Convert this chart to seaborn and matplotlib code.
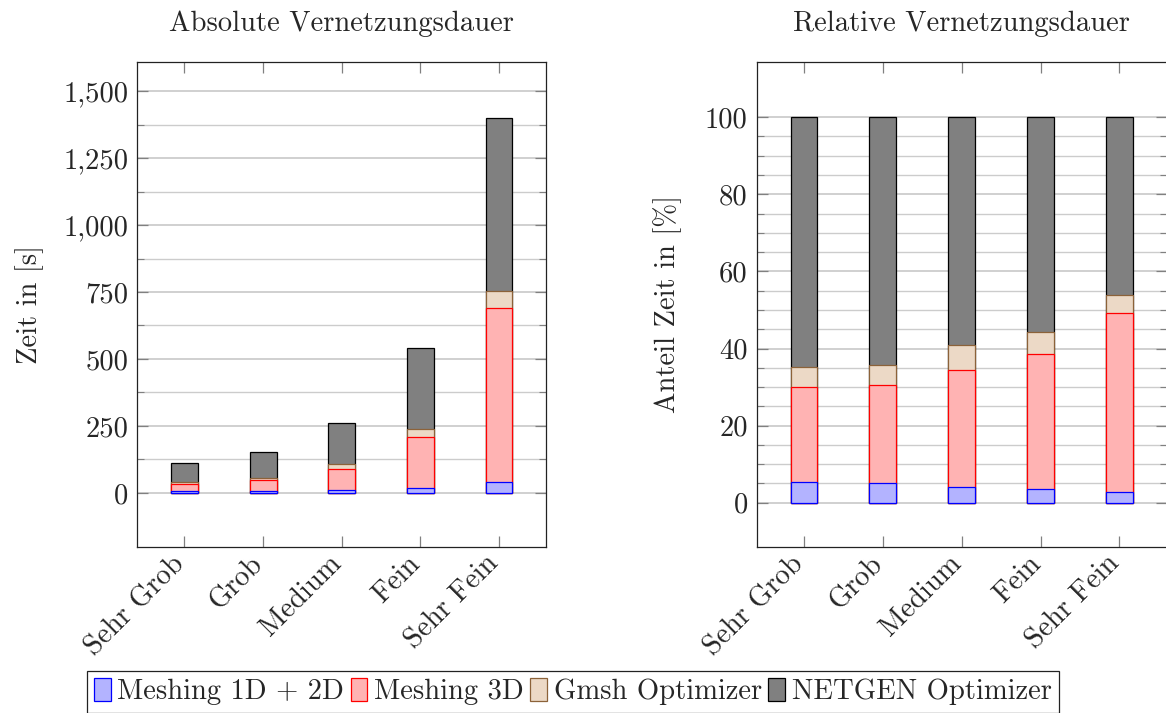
import numpy as np
import pandas as pd
import matplotlib
matplotlib.use("Agg")
import matplotlib.pyplot as plt
import matplotlib.transforms as mtrans
import seaborn as sns
from matplotlib.ticker import FixedLocator, FuncFormatter
from matplotlib.patches import Patch

# ---------------- data ----------------
categories = ["Sehr Grob", "Grob", "Medium", "Fein", "Sehr Fein"]
series_names = ["Meshing 1D + 2D", "Meshing 3D", "Gmsh Optimizer", "NETGEN Optimizer"]
meshing_1d2d = [6.0, 7.9, 11.0, 18.9, 40.6]       # s
meshing_3d = [27.5, 38.5, 79.4, 188.7, 648.7]     # s
gmsh_opt = [5.8, 7.9, 16.8, 31.8, 65.8]           # s
netgen_opt = [72.7, 97.7, 154.8, 299.7, 645.9]    # s

abs_major_ticks = [0, 250, 500, 750, 1000, 1250, 1500]
abs_minor_ticks = [125, 375, 625, 875, 1125, 1375]
rel_major_ticks = [0, 20, 40, 60, 80, 100]
rel_minor_ticks = [5, 10, 15, 25, 30, 35, 45, 50, 55, 65, 70, 75, 85, 90, 95]

fills = ["#b3b3ff", "#ffb3b3", "#ecd9c6", "#808080"]
edges = ["#0000ff", "#ff0000", "#8c6239", "#000000"]

sns.set_theme(style="white")
plt.rcParams["font.family"] = ["cmr10", "DejaVu Serif"]
plt.rcParams["axes.formatter.use_mathtext"] = True
plt.rcParams["axes.unicode_minus"] = False
plt.rcParams["font.size"] = 20.6

abs_df = pd.DataFrame({
    "Kategorie": categories,
    series_names[0]: meshing_1d2d,
    series_names[1]: meshing_3d,
    series_names[2]: gmsh_opt,
    series_names[3]: netgen_opt,
})
totals = abs_df[series_names].sum(axis=1)
rel_df = abs_df.copy()
for s in series_names:
    rel_df[s] = abs_df[s] / totals * 100.0

fig = plt.figure(figsize=(11.66, 7.13), dpi=100)
ax1 = fig.add_axes([137.3 / 1166, 1 - 546.7 / 713, 409 / 1166, 485 / 713])
ax2 = fig.add_axes([756.7 / 1166, 1 - 546.7 / 713, 410 / 1166, 485 / 713])

BAR_W = 0.34
FS = 20.6


def stacked(ax, df):
    cum = df[series_names].cumsum(axis=1)
    for k in range(len(series_names) - 1, -1, -1):
        d = pd.DataFrame({"Kategorie": df["Kategorie"], "v": cum[series_names[k]]})
        sns.barplot(data=d, x="Kategorie", y="v", order=categories, ax=ax,
                    color=fills[k], edgecolor=edges[k], linewidth=0.9,
                    width=BAR_W, saturation=1, errorbar=None)


def style(ax, major, minor):
    ax.set_xlim(-0.6, 4.6)
    ax.yaxis.set_major_locator(FixedLocator(major))
    ax.yaxis.set_minor_locator(FixedLocator(minor))
    ax.set_axisbelow(True)
    ax.grid(which="major", axis="y", color="#c4c4c4", lw=1.1)
    ax.grid(which="minor", axis="y", color="#cccccc", lw=1.0)
    ax.grid(which="major", axis="x", visible=False)
    for sp in ax.spines.values():
        sp.set_visible(True)
        sp.set_color("#222222")
        sp.set_linewidth(0.9)
    ax.tick_params(axis="y", which="both", direction="in", left=True, right=True,
                   color="#808080", labelsize=FS, pad=6.5)
    ax.tick_params(axis="y", which="major", length=8, width=0.9)
    ax.tick_params(axis="y", which="minor", length=5, width=0.8)
    ax.tick_params(axis="x", which="major", direction="in", bottom=True, top=True,
                   color="#808080", length=8, width=0.9, labelsize=FS, pad=9.6)
    ax.set_xticks(range(len(categories)))
    ax.set_xticklabels(categories, rotation=45, ha="right", va="center",
                       rotation_mode="anchor")
    off = mtrans.ScaledTranslation(-4 / 100, 0, fig.dpi_scale_trans)
    for lab in ax.get_xticklabels():
        lab.set_transform(lab.get_transform() + off)
    ax.set_xlabel("")


stacked(ax1, abs_df)
stacked(ax2, rel_df)
style(ax1, abs_major_ticks, abs_minor_ticks)
style(ax2, rel_major_ticks, rel_minor_ticks)

ax1.set_ylim(-201, 1610)
ax1.yaxis.set_major_formatter(FuncFormatter(lambda v, p: f"{int(round(v)):,}"))
ax1.set_ylabel("Zeit in [s]", fontsize=FS)
ax1.yaxis.set_label_coords(-0.228, 0.5)
ax1.set_title("Absolute Vernetzungsdauer", fontsize=FS, pad=22)

ax2.set_ylim(-11.4, 114.4)
ax2.yaxis.set_major_formatter(FuncFormatter(lambda v, p: f"{int(round(v))}"))
ax2.set_ylabel("Anteil Zeit in [%]", fontsize=FS)
ax2.yaxis.set_label_coords(-0.182, 0.5)
ax2.set_title("Relative Vernetzungsdauer", fontsize=FS, pad=22)

handles = [Patch(facecolor=f, edgecolor=e, linewidth=0.9) for f, e in zip(fills, edges)]
leg = fig.legend(handles, series_names, loc="upper left",
                 bbox_to_anchor=(86.7 / 1166, 1 - 671 / 713), ncol=4,
                 borderaxespad=0, handlelength=0.585, handleheight=0.84,
                 handletextpad=0.23, columnspacing=0.23, borderpad=0.25,
                 fontsize=FS, frameon=True, fancybox=False, framealpha=1,
                 edgecolor="#222222")
leg.get_frame().set_linewidth(0.9)

fig.savefig("out.png", dpi=100)
